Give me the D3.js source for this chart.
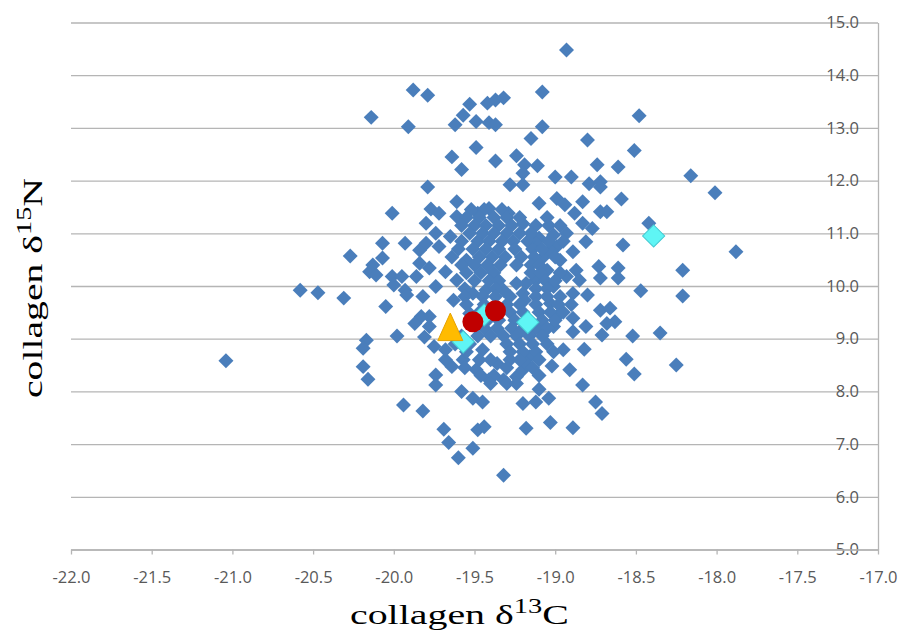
<!DOCTYPE html>
<html>
<head>
<meta charset="utf-8">
<script src="https://cdn.jsdelivr.net/npm/d3@7"></script>
<style>
  html, body { margin: 0; padding: 0; background: #fff; }
  svg { display: block; }
</style>
</head>
<body>
<div id="chart"></div>
<script>
// tick values
var xTicks = [-22, -21.5, -21, -20.5, -20, -19.5, -19, -18.5, -18, -17.5, -17];
var yTicks = [5, 6, 7, 8, 9, 10, 11, 12, 13, 14, 15];

// individual collagen samples [d13C, d15N]
var samples = [
  [-21.04, 8.58], [-20.58, 9.92], [-20.47, 9.87], [-20.31, 9.77], [-20.27, 10.57], [-18.93, 14.48],
  // upper part
  [-19.88, 13.72], [-19.79, 13.62], [-20.14, 13.20], [-19.91, 13.02], [-19.53, 13.45], [-19.57, 13.24],
  [-19.62, 13.06], [-19.49, 13.12], [-19.42, 13.47], [-19.37, 13.53], [-19.32, 13.57], [-19.41, 13.10],
  [-19.37, 13.06], [-19.49, 12.63], [-19.64, 12.45], [-19.58, 12.21], [-19.37, 12.37], [-19.24, 12.47],
  [-19.15, 12.80], [-19.19, 12.30], [-19.20, 12.14], [-19.79, 11.88], [-19.28, 11.92], [-19.20, 11.92],
  [-19.08, 13.68], [-19.08, 13.02], [-18.48, 13.23], [-18.80, 12.77], [-18.51, 12.57], [-18.74, 12.30],
  [-18.61, 12.26], [-19.11, 12.28], [-19.00, 12.07], [-18.90, 12.07], [-18.16, 12.09], [-18.79, 11.94],
  [-18.72, 11.98], [-18.72, 11.88], [-18.01, 11.77],
  // left of the core
  [-19.61, 11.60], [-19.77, 11.46], [-19.72, 11.38], [-20.01, 11.38], [-19.80, 11.19], [-19.61, 11.32],
  [-19.20, 11.18], [-19.29, 11.38], [-19.41, 11.47], [-19.48, 11.38], [-20.07, 10.81], [-19.93, 10.81],
  [-20.07, 10.53], [-20.13, 10.40], [-20.15, 10.27], [-20.11, 10.21], [-20.01, 10.18], [-19.95, 10.18],
  [-20.00, 10.02], [-19.93, 9.92], [-19.84, 10.68], [-19.84, 10.43], [-19.80, 10.81], [-19.72, 10.75],
  [-19.65, 10.94], [-19.74, 11.00], [-19.55, 10.49], [-19.86, 10.18], [-19.78, 10.34], [-19.68, 10.27],
  [-19.61, 10.11], [-20.05, 9.61], [-19.82, 9.80], [-19.92, 9.83], [-19.74, 9.99], [-19.78, 9.42],
  [-19.83, 9.42], [-19.87, 9.29], [-19.78, 9.23], [-19.98, 9.05], [-20.17, 8.97], [-19.53, 9.48],
  [-19.63, 9.73], [-19.51, 9.86], [-19.43, 9.92], [-19.32, 9.92], [-19.20, 9.86], [-19.24, 10.05],
  // right of the core
  [-18.59, 11.65], [-19.10, 11.57], [-18.99, 11.66], [-18.94, 11.54], [-18.83, 11.60], [-18.72, 11.41],
  [-18.68, 11.41], [-18.88, 11.38], [-18.83, 11.19], [-18.77, 11.09], [-18.42, 11.19], [-18.58, 10.78],
  [-18.81, 10.84], [-18.89, 10.65], [-18.73, 10.37], [-18.61, 10.34], [-18.61, 10.15], [-18.72, 10.15],
  [-18.87, 10.30], [-18.85, 10.11], [-18.93, 10.18], [-18.21, 10.30], [-18.21, 9.81], [-18.47, 9.91],
  [-18.89, 9.86], [-18.80, 9.83], [-19.12, 10.11], [-19.18, 10.05], [-19.01, 9.99], [-18.97, 9.80],
  [-19.03, 9.67], [-19.19, 9.73], [-18.72, 9.54], [-18.66, 9.58], [-18.63, 9.32], [-18.68, 9.29],
  [-18.89, 9.39], [-18.81, 9.23], [-18.89, 9.13], [-18.99, 9.42], [-19.01, 9.23], [-19.07, 9.13],
  [-19.11, 9.23], [-18.52, 9.05], [-18.35, 9.11], [-18.71, 9.07], [-17.88, 10.65],
  [-19.10, 10.91], [-19.01, 10.97], [-18.99, 10.75], [-19.07, 10.56], [-18.97, 10.49], [-19.05, 10.30],
  [-19.12, 10.81], [-19.03, 10.68],
  // lower part
  [-20.19, 8.82], [-19.81, 9.03], [-19.75, 8.85], [-20.19, 8.47], [-20.16, 8.23], [-19.74, 8.31],
  [-19.74, 8.12], [-19.64, 8.47], [-19.68, 8.60], [-19.68, 8.79], [-19.57, 8.60], [-19.58, 8.00],
  [-19.51, 7.87], [-19.45, 7.80], [-19.94, 7.74], [-19.82, 7.63], [-19.20, 7.77], [-19.18, 7.30],
  [-19.69, 7.28], [-19.66, 7.03], [-19.48, 7.27], [-19.44, 7.33], [-19.51, 6.92], [-19.60, 6.74],
  [-19.32, 6.41], [-19.49, 8.41], [-19.41, 8.22], [-19.32, 8.22], [-19.24, 8.28], [-19.45, 8.79],
  [-19.36, 8.53], [-19.28, 8.60], [-19.20, 8.41], [-19.16, 8.66],
  [-18.82, 8.80], [-18.56, 8.61], [-18.51, 8.33], [-18.25, 8.50], [-18.91, 8.41], [-19.02, 8.48],
  [-18.83, 8.12], [-19.10, 8.04], [-19.04, 7.87], [-19.12, 7.80], [-18.75, 7.80], [-18.71, 7.58],
  [-19.03, 7.41], [-18.89, 7.31], [-19.01, 8.75], [-18.95, 8.79], [-19.18, 8.53],
  // dense core
  [-19.52, 11.45], [-19.44, 11.45], [-19.33, 11.45],
  [-19.55, 11.30], [-19.47, 11.30], [-19.38, 11.30], [-19.30, 11.30], [-19.22, 11.30], [-19.05, 11.30],
  [-19.58, 11.15], [-19.50, 11.15], [-19.43, 11.15], [-19.35, 11.15], [-19.27, 11.15], [-19.12, 11.15],
  [-19.04, 11.15], [-18.97, 11.15],
  [-19.53, 11.00], [-19.45, 11.00], [-19.38, 11.00], [-19.30, 11.00], [-19.22, 11.00], [-19.15, 11.00],
  [-18.93, 11.00],
  [-19.58, 10.85], [-19.48, 10.85], [-19.41, 10.85], [-19.33, 10.85], [-19.26, 10.85], [-19.17, 10.85],
  [-19.04, 10.85], [-18.95, 10.85],
  [-19.60, 10.70], [-19.51, 10.70], [-19.43, 10.70], [-19.35, 10.70], [-19.25, 10.70], [-19.14, 10.70],
  [-19.08, 10.70],
  [-19.64, 10.55], [-19.47, 10.55], [-19.39, 10.55], [-19.31, 10.55], [-19.21, 10.55], [-19.13, 10.55],
  [-19.00, 10.55],
  [-19.58, 10.40], [-19.50, 10.40], [-19.42, 10.40], [-19.34, 10.40], [-19.24, 10.40], [-19.15, 10.40],
  [-19.10, 10.40],
  [-19.55, 10.25], [-19.46, 10.25], [-19.38, 10.25], [-19.15, 10.25], [-19.09, 10.25], [-18.97, 10.25],
  [-19.50, 10.10], [-19.41, 10.10], [-19.35, 10.10], [-19.06, 10.10], [-19.00, 10.10],
  [-19.56, 9.95], [-19.37, 9.95], [-19.12, 9.95], [-19.05, 9.95],
  [-19.56, 9.80], [-19.45, 9.80], [-19.37, 9.80], [-19.28, 9.80], [-19.12, 9.80], [-19.05, 9.80],
  [-19.55, 9.65], [-19.44, 9.65], [-19.30, 9.65], [-19.22, 9.65], [-19.12, 9.65], [-18.98, 9.65],
  [-18.90, 9.65],
  [-19.47, 9.50], [-19.28, 9.50], [-19.20, 9.50], [-19.10, 9.50], [-19.03, 9.50], [-18.95, 9.50],
  [-19.42, 9.35], [-19.35, 9.35], [-19.25, 9.35], [-19.08, 9.35], [-19.00, 9.35],
  [-19.44, 9.20], [-19.36, 9.20], [-19.27, 9.20], [-19.20, 9.20], [-19.12, 9.20], [-19.05, 9.20],
  [-19.58, 9.05], [-19.48, 9.05], [-19.40, 9.05], [-19.32, 9.05], [-19.24, 9.05], [-19.16, 9.05],
  [-19.08, 9.05],
  [-19.62, 8.90], [-19.53, 8.90], [-19.30, 8.90], [-19.22, 8.90], [-19.14, 8.90], [-19.05, 8.90],
  [-19.55, 8.75], [-19.28, 8.75], [-19.20, 8.75], [-19.12, 8.75],
  [-19.47, 8.60], [-19.40, 8.60], [-19.22, 8.60], [-19.10, 8.60],
  [-19.56, 8.45], [-19.30, 8.45], [-19.14, 8.45],
  [-19.46, 8.30], [-19.38, 8.30], [-19.10, 8.30],
  [-19.40, 8.15], [-19.30, 8.15], [-19.24, 8.15]
];

// highlighted samples
var cyanPoints = [[-19.44, 9.45], [-19.17, 9.31], [-19.57, 8.94], [-18.39, 10.95]];
var redPoints = [[-19.51, 9.32], [-19.37, 9.53]];
var trianglePoints = [[-19.65, 9.22]];

(function() {
    var width = 898, height = 633,
        plotLeft = 71, plotRight = 878, plotTop = 22.5, plotBottom = 549.5,
        gridColor = '#b5b5b5',
        labelFont = '"Open Sans", "Liberation Sans", sans-serif',
        titleFont = '"Liberation Serif", "Times New Roman", serif';

    var svg = d3.select('#chart').append('svg')
        .attr('width', width)
        .attr('height', height);

    svg.append('rect').attr('width', width).attr('height', height).attr('fill', '#fff');

    var x = d3.scaleLinear().domain([-22, -17]).range([plotLeft, plotRight]);
    var y = d3.scaleLinear().domain([5, 15]).range([plotBottom, plotTop]);

    // horizontal gridlines
    var grid = svg.append('g')
        .attr('transform', 'translate(' + plotRight + ',0)')
        .call(d3.axisLeft(y).tickValues(yTicks).tickSize(plotRight - plotLeft).tickFormat(''));
    grid.select('.domain').remove();
    grid.selectAll('line').attr('stroke', gridColor).attr('stroke-width', 1.3);

    // right axis line + labels sitting left of it
    var yAxis = svg.append('g')
        .attr('transform', 'translate(' + plotRight + ',0)')
        .call(d3.axisLeft(y).tickValues(yTicks).tickSize(0).tickPadding(19)
            .tickFormat(function(d){ return d.toFixed(1); }));
    yAxis.select('.domain').attr('stroke', gridColor).attr('stroke-width', 1.3);
    yAxis.selectAll('text')
        .attr('font-family', labelFont)
        .attr('font-size', '16.5px')
        .attr('fill', '#595959');

    // bottom axis
    var xAxis = svg.append('g')
        .attr('transform', 'translate(0,' + plotBottom + ')')
        .call(d3.axisBottom(x).tickValues(xTicks).tickSizeInner(5).tickSizeOuter(0).tickPadding(17)
            .tickFormat(function(d){ return d.toFixed(1); }));
    xAxis.select('.domain').attr('stroke', gridColor).attr('stroke-width', 1.3);
    xAxis.selectAll('line').attr('stroke', gridColor).attr('stroke-width', 1.3);
    xAxis.selectAll('text')
        .attr('font-family', labelFont)
        .attr('font-size', '16.5px')
        .attr('fill', '#595959');

    // markers
    var smallDiamond = d3.symbol().type(d3.symbolSquare).size(112);
    var bigDiamond = d3.symbol().type(d3.symbolSquare).size(245);

    svg.append('g').selectAll('path').data(samples).enter()
        .append('path')
        .attr('d', smallDiamond)
        .attr('transform', function(d){ return 'translate(' + x(d[0]) + ',' + y(d[1]) + ') rotate(45)'; })
        .attr('fill', '#4a7ebb');

    svg.append('g').selectAll('path').data(cyanPoints).enter()
        .append('path')
        .attr('d', bigDiamond)
        .attr('transform', function(d){ return 'translate(' + x(d[0]) + ',' + y(d[1]) + ') rotate(45)'; })
        .attr('fill', '#5ff5f5')
        .attr('stroke', '#45c9d2')
        .attr('stroke-width', 1);

    svg.append('g').selectAll('path').data(trianglePoints).enter()
        .append('path')
        .attr('d', 'M0,-14L12.5,13.5L-12.5,13.5Z')
        .attr('transform', function(d){ return 'translate(' + x(d[0]) + ',' + y(d[1]) + ')'; })
        .attr('fill', '#ffbb00')
        .attr('stroke', '#e6a200')
        .attr('stroke-width', 1);

    svg.append('g').selectAll('circle').data(redPoints).enter()
        .append('circle')
        .attr('cx', function(d){ return x(d[0]); })
        .attr('cy', function(d){ return y(d[1]); })
        .attr('r', 10.5)
        .attr('fill', '#c00000');

    // axis titles, stretched to match the original's wide serif
    function axisTitle(g, sup, tail, len) {
        var t = g.append('text')
            .attr('font-family', titleFont)
            .attr('font-size', '28px')
            .attr('fill', '#000');
        t.append('tspan').text('collagen \u03b4');
        t.append('tspan').attr('font-size', '20px').attr('dy', -11).text(sup);
        t.append('tspan').attr('dy', 11).text(tail);
        var w = t.node().getComputedTextLength();
        t.attr('transform', 'scale(' + (len / w) + ',1)');
    }

    axisTitle(svg.append('g').attr('transform', 'translate(350,624)'), '13', 'C', 219);
    axisTitle(svg.append('g').attr('transform', 'translate(42,398) rotate(-90)'), '15', 'N', 220);
})();
</script>
</body>
</html>
